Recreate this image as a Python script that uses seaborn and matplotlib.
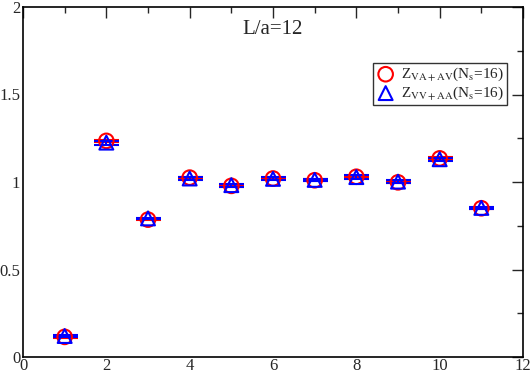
import matplotlib
matplotlib.use('Agg')
import matplotlib.pyplot as plt
import seaborn as sns
import pandas as pd
from matplotlib.ticker import MultipleLocator, FormatStrFormatter

# data
n = [1, 2, 3, 4, 5, 6, 7, 8, 9, 10, 11]
z_va = [0.115, 1.235, 0.785, 1.025, 0.978, 1.020, 1.010, 1.030, 0.998, 1.135, 0.850]
z_va_err = [0.004, 0.006, 0.004, 0.005, 0.005, 0.005, 0.005, 0.005, 0.005, 0.006, 0.004]
z_vv = [0.120, 1.225, 0.792, 1.020, 0.982, 1.018, 1.012, 1.028, 1.002, 1.130, 0.852]
z_vv_err = [0.004, 0.012, 0.005, 0.010, 0.008, 0.008, 0.008, 0.010, 0.008, 0.008, 0.006]

sns.set_style('white')
plt.rcParams['font.family'] = ['Liberation Serif', 'DejaVu Serif']
plt.rcParams['mathtext.fontset'] = 'stix'

df = pd.DataFrame({'n': n + n,
                   'z': z_va + z_vv,
                   'err': z_va_err + z_vv_err,
                   'kind': ['va'] * len(n) + ['vv'] * len(n)})

fig = plt.figure(figsize=(5.32, 3.74), dpi=100)
ax = fig.add_axes([23 / 532, 1 - 357 / 374, 500 / 532, 350 / 374])

da = df[df.kind == 'va']
dv = df[df.kind == 'vv']
ax.errorbar(da.n, da.z, yerr=da.err, fmt='none', ecolor='red', capsize=9, elinewidth=1.5, capthick=1.5)
ax.errorbar(dv.n, dv.z, yerr=dv.err, fmt='none', ecolor='blue', capsize=9, elinewidth=1.5, capthick=1.5)
sns.scatterplot(data=da, x='n', y='z', ax=ax, marker='o', s=110, facecolor='none',
                edgecolor='red', linewidth=1.5, label=r'Z$_{\rm VA+AV}$(N$_{\rm s}$=16)', zorder=3)
sns.scatterplot(data=dv, x='n', y='z', ax=ax, marker='^', s=100, facecolor='none',
                edgecolor='blue', linewidth=1.5, label=r'Z$_{\rm VV+AA}$(N$_{\rm s}$=16)', zorder=4)

ax.set_xlim(0, 12)
ax.set_ylim(0, 2)
ax.xaxis.set_major_locator(MultipleLocator(2))
ax.xaxis.set_minor_locator(MultipleLocator(1))
ax.yaxis.set_major_locator(MultipleLocator(0.5))
ax.yaxis.set_minor_locator(MultipleLocator(0.25))
ax.xaxis.set_major_formatter(FormatStrFormatter('%g'))
ax.yaxis.set_major_formatter(FormatStrFormatter('%g'))
ax.tick_params(which='both', direction='in', top=True, right=True, labelsize=12, width=1)
ax.tick_params(axis='x', pad=1)
ax.tick_params(axis='y', pad=2)
ax.tick_params(which='major', length=8)
ax.tick_params(which='minor', length=4)
ax.set_xlabel('')
ax.set_ylabel('')
for s in ax.spines.values():
    s.set_linewidth(1.2)
    s.set_color('black')

ax.text(6.0, 1.87, 'L/a=12', ha='center', va='center', fontsize=15)
leg = ax.legend(loc='upper right', bbox_to_anchor=(0.968, 0.84), fontsize=11, frameon=True,
                fancybox=False, edgecolor='black', handletextpad=0.4, borderpad=0.2,
                labelspacing=0.1, handlelength=1.2, borderaxespad=0)
leg.get_frame().set_linewidth(1)

fig.savefig('out.png', dpi=100)
